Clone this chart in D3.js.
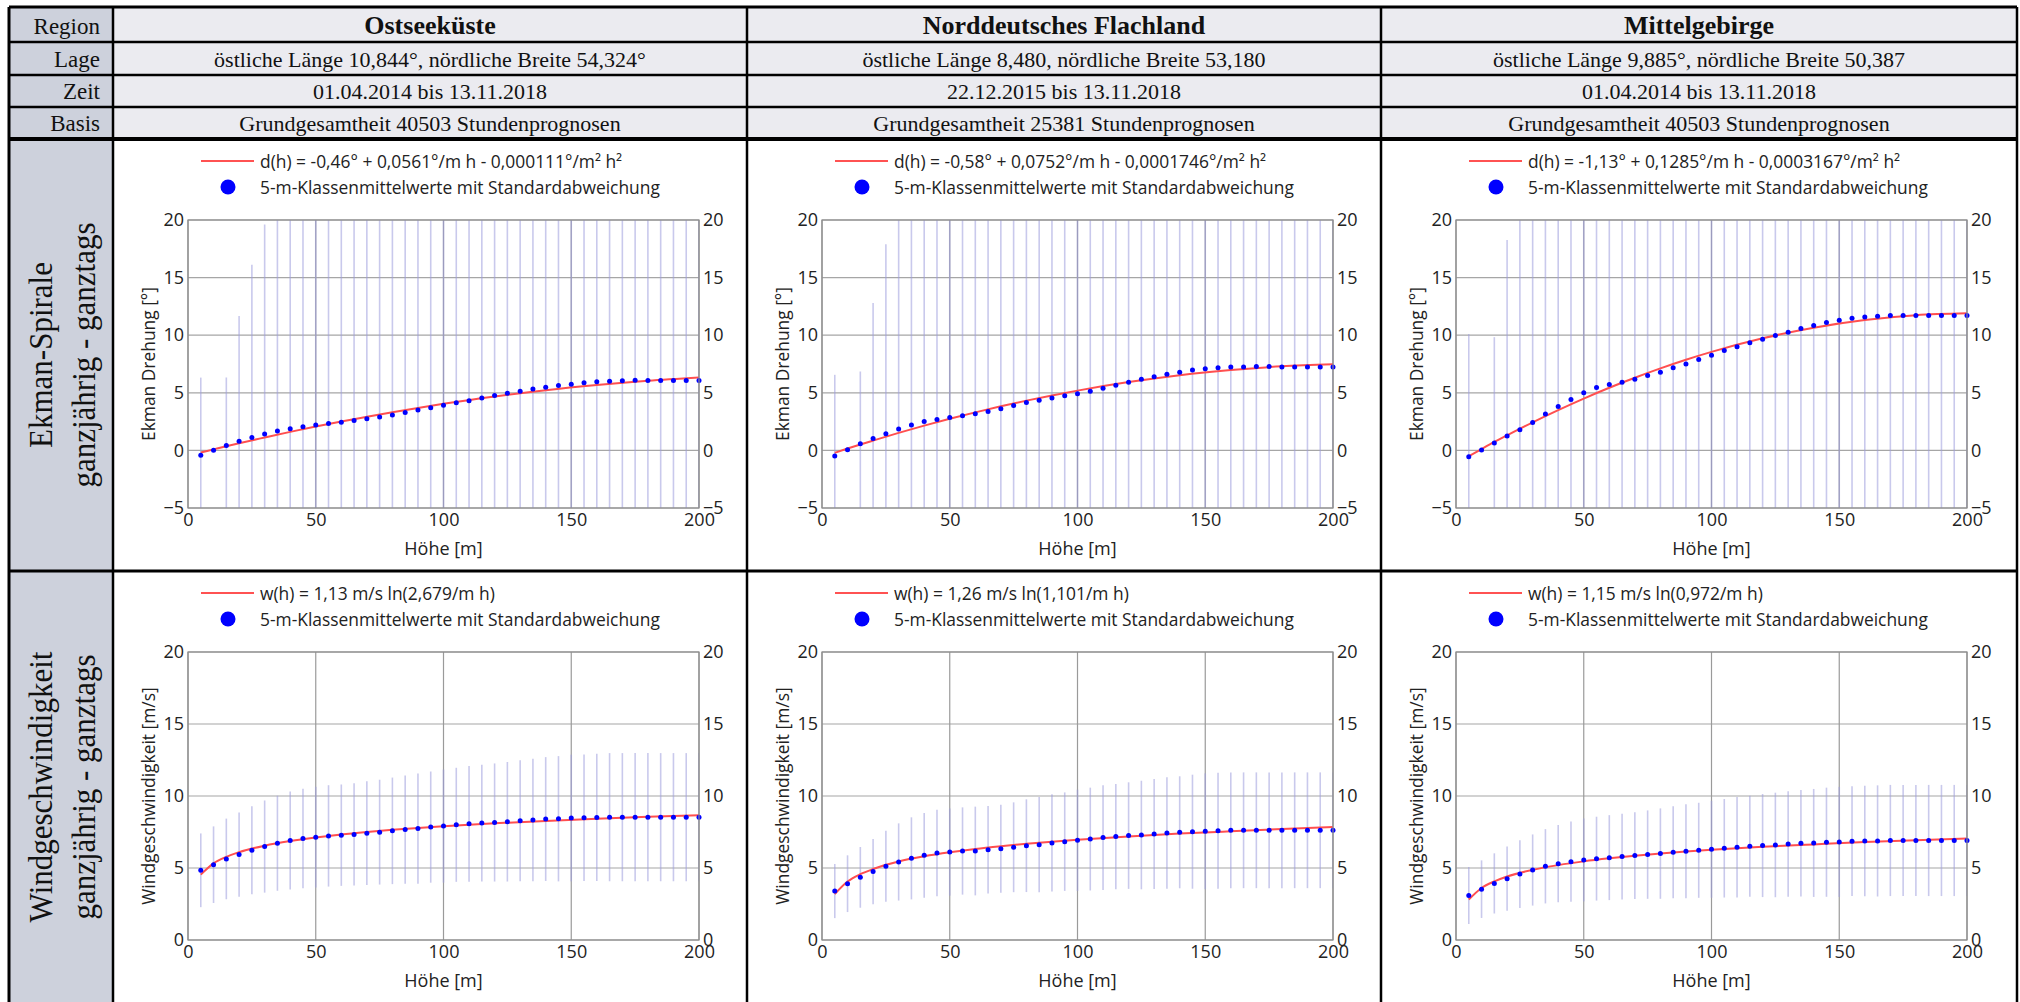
<!DOCTYPE html>
<html><head><meta charset="utf-8">
<script src="https://cdn.jsdelivr.net/npm/d3@7"></script>
<style>body{margin:0;background:#fff;overflow:hidden}</style>
</head><body>
<svg id="c" width="2020" height="1002"></svg>
<script>
// ---------------- DATA ----------------
const regions = ["Ostseeküste", "Norddeutsches Flachland", "Mittelgebirge"];
const lage = ["östliche Länge 10,844°, nördliche Breite 54,324°", "östliche Länge 8,480, nördliche Breite 53,180", "östliche Länge 9,885°, nördliche Breite 50,387"];
const zeit = ["01.04.2014 bis 13.11.2018", "22.12.2015 bis 13.11.2018", "01.04.2014 bis 13.11.2018"];
const basis = ["Grundgesamtheit 40503 Stundenprognosen", "Grundgesamtheit 25381 Stundenprognosen", "Grundgesamtheit 40503 Stundenprognosen"];
const headerLabels = ["Region", "Lage", "Zeit", "Basis"];
const rowTitles = [["Ekman-Spirale", "ganzjährig - ganztags"], ["Windgeschwindigkeit", "ganzjährig - ganztags"]];

const ekmanLegend = ["d(h) = -0,46° + 0,0561°/m h - 0,000111°/m² h²", "d(h) = -0,58° + 0,0752°/m h - 0,0001746°/m² h²", "d(h) = -1,13° + 0,1285°/m h - 0,0003167°/m² h²"];
const windLegend = ["w(h) = 1,13 m/s ln(2,679/m h)", "w(h) = 1,26 m/s ln(1,101/m h)", "w(h) = 1,15 m/s ln(0,972/m h)"];
const meanLegend = "5-m-Klassenmittelwerte mit Standardabweichung";
const ekmanTitle = "Ekman Drehung [°]";
const windTitle = "Windgeschwindigkeit [m/s]";
const xTitle = "Höhe [m]";

const xTicks = [0, 50, 100, 150, 200];
const ekmanTicks = [-5, 0, 5, 10, 15, 20];
const windTicks = [0, 5, 10, 15, 20];

const heights = [5,10,15,20,25,30,35,40,45,50,55,60,65,70,75,80,85,90,95,100,105,110,115,120,125,130,135,140,145,150,155,160,165,170,175,180,185,190,195,200];
const fitHeights = [5,10,15,20,30,40,50,60,70,80,90,100,120,140,160,180,200];

// Ekman rotation (°)
const ekmanMeanOstsee = [-0.42,0.02,0.43,0.8,1.12,1.42,1.68,1.88,2.05,2.2,2.33,2.45,2.59,2.74,2.91,3.08,3.29,3.5,3.7,3.92,4.13,4.3,4.54,4.77,4.97,5.14,5.32,5.49,5.64,5.75,5.87,5.95,6.01,6.04,6.08,6.07,6.07,6.07,6.07,6.07];
const ekmanSdOstsee = [6.74,null,5.9,10.87,15.0,18.2,24.1,24.6,25.0,25.3,25.5,25.6,25.8,25.9,26.0,26.1,26.2,26.2,26.3,26.3,26.4,26.4,26.5,26.5,26.5,26.6,26.6,26.6,26.7,26.7,26.7,26.7,26.8,26.8,26.8,26.8,26.8,26.8,26.8,26.8];
const ekmanFitOstsee = [-0.18,0.09,0.36,0.62,1.12,1.61,2.07,2.51,2.92,3.32,3.69,4.04,4.67,5.22,5.67,6.04,6.32];

const ekmanMeanNord = [-0.49,0.06,0.58,1.04,1.45,1.85,2.2,2.51,2.69,2.86,3.01,3.18,3.38,3.61,3.9,4.16,4.36,4.54,4.74,4.91,5.14,5.4,5.66,5.92,6.18,6.39,6.62,6.79,6.99,7.08,7.17,7.23,7.25,7.28,7.28,7.25,7.25,7.25,7.25,7.25];
const ekmanSdNord = [7.05,null,6.27,11.76,16.45,22.5,23.4,24.0,24.5,24.9,25.2,25.4,25.6,25.7,25.9,26.0,26.1,26.2,26.3,26.3,26.4,26.4,26.5,26.5,26.5,26.6,26.6,26.6,26.7,26.7,26.7,26.7,26.8,26.8,26.8,26.8,26.8,26.8,26.8,26.8];
const ekmanFitNord = [-0.21,0.16,0.51,0.85,1.52,2.15,2.74,3.3,3.83,4.32,4.77,5.19,5.93,6.53,6.98,7.3,7.48];

const ekmanMeanMittel = [-0.55,0.03,0.64,1.24,1.79,2.43,3.15,3.82,4.42,5.0,5.46,5.72,5.92,6.18,6.5,6.79,7.17,7.51,7.89,8.27,8.67,8.99,9.34,9.65,9.97,10.26,10.58,10.84,11.1,11.3,11.47,11.59,11.65,11.71,11.71,11.71,11.71,11.71,11.71,11.71];
const ekmanSdMittel = [10.65,null,9.19,17.03,21.8,22.6,23.3,23.9,24.4,24.8,25.1,25.4,25.6,25.8,25.9,26.0,26.1,26.2,26.3,26.3,26.4,26.4,26.5,26.5,26.5,26.6,26.6,26.6,26.7,26.7,26.7,26.7,26.8,26.8,26.8,26.8,26.8,26.8,26.8,26.8];
const ekmanFitMittel = [-0.5,0.12,0.73,1.31,2.44,3.5,4.5,5.44,6.31,7.12,7.87,8.55,9.73,10.65,11.32,11.74,11.9];

// Wind speed (m/s)
const windMeanOstsee = [4.84,5.23,5.63,5.93,6.23,6.49,6.72,6.91,7.05,7.14,7.23,7.28,7.33,7.42,7.49,7.58,7.67,7.74,7.84,7.91,8.0,8.07,8.12,8.16,8.21,8.28,8.33,8.4,8.42,8.47,8.49,8.51,8.53,8.53,8.53,8.53,8.53,8.53,8.53,8.53];
const windSdOstsee = [2.56,2.66,2.8,2.93,3.06,3.2,3.3,3.4,3.45,3.5,3.52,3.52,3.55,3.6,3.64,3.7,3.76,3.83,3.86,3.93,3.96,4.02,4.05,4.1,4.15,4.2,4.25,4.3,4.35,4.4,4.4,4.42,4.45,4.45,4.45,4.45,4.45,4.45,4.45,4.45];
const windFitOstsee = [4.54,5.32,5.77,6.1,6.55,6.87,7.12,7.33,7.5,7.65,7.78,7.9,8.1,8.27,8.42,8.56,8.67];

const windMeanNord = [3.4,3.91,4.35,4.75,5.12,5.42,5.67,5.88,6.04,6.11,6.18,6.18,6.27,6.34,6.44,6.55,6.62,6.74,6.83,6.92,7.01,7.11,7.18,7.25,7.29,7.36,7.43,7.48,7.52,7.55,7.59,7.62,7.62,7.62,7.62,7.62,7.62,7.62,7.62,7.62];
const windSdNord = [1.88,1.97,2.11,2.26,2.47,2.68,2.85,2.94,3.01,3.03,3.03,3.08,3.04,3.06,3.12,3.22,3.31,3.38,3.42,3.52,3.57,3.63,3.65,3.7,3.77,3.82,3.87,3.89,3.96,4.02,4.03,4.02,4.02,4.02,4.02,4.02,4.02,4.02,4.02,4.02];
const windFitNord = [3.19,4.06,4.57,4.93,5.45,5.81,6.09,6.32,6.51,6.68,6.83,6.96,7.19,7.39,7.55,7.7,7.84];

const windMeanMittel = [3.09,3.53,3.93,4.26,4.58,4.86,5.12,5.3,5.44,5.56,5.65,5.72,5.79,5.86,5.93,6.0,6.09,6.16,6.23,6.3,6.37,6.44,6.51,6.56,6.6,6.67,6.72,6.74,6.79,6.81,6.86,6.88,6.88,6.91,6.91,6.91,6.91,6.91,6.91,6.91];
const windSdMittel = [1.98,2.0,2.09,2.23,2.35,2.47,2.58,2.68,2.79,2.88,2.91,2.95,2.98,3.02,3.07,3.14,3.19,3.26,3.3,3.37,3.42,3.49,3.51,3.58,3.63,3.66,3.7,3.75,3.79,3.82,3.81,3.84,3.86,3.86,3.86,3.86,3.86,3.86,3.86,3.86];
const windFitMittel = [2.81,3.61,4.07,4.41,4.87,5.2,5.46,5.67,5.85,6.0,6.14,6.26,6.47,6.64,6.8,6.93,7.05];

// ---------------- LAYOUT ----------------
const svg = d3.select("#c");
const SERIF = '"Liberation Serif","Times New Roman",serif';
const SANS = '"Open Sans","Noto Sans",sans-serif';
const colX = [113, 747, 1381, 2017];
const tableL = 9, tableT = 7, tableB = 1010;
const hdrRows = [7, 42, 75, 107, 139];
const chartRows = [139, 571, tableB];

// backgrounds
svg.append("rect").attr("x", tableL).attr("y", tableT).attr("width", colX[0] - tableL).attr("height", tableB - tableT).attr("fill", "#cdd1dc");
svg.append("rect").attr("x", colX[0]).attr("y", tableT).attr("width", colX[3] - colX[0]).attr("height", hdrRows[4] - tableT).attr("fill", "#ebebf0");

// header texts
const headerData = [regions, lage, zeit, basis];
headerLabels.forEach((lab, r) => {
  svg.append("text").attr("x", 100).attr("y", hdrRows[r + 1] - 8)
    .attr("text-anchor", "end").attr("font-family", SERIF).attr("font-size", 23).attr("fill", "#111").text(lab);
  headerData[r].forEach((t, c) => {
    svg.append("text").attr("x", (colX[c] + colX[c + 1]) / 2).attr("y", hdrRows[r + 1] - 8)
      .attr("text-anchor", "middle").attr("font-family", SERIF)
      .attr("font-size", r === 0 ? 26 : 22).attr("font-weight", r === 0 ? "bold" : "normal")
      .attr("fill", "#111").text(t);
  });
});

// row titles (rotated, slightly stretched glyph height as in the reference)
rowTitles.forEach((lines, r) => {
  const cy = chartRows[r] + 216;
  lines.forEach((t, i) => {
    svg.append("text").attr("transform", `translate(${i === 0 ? 52 : 95},${cy}) rotate(-90) scale(1,1.12)`)
      .attr("text-anchor", "middle").attr("font-family", SERIF).attr("font-size", 31)
      .attr("fill", "#111").text(t);
  });
});

// ---------------- PANELS ----------------
const panels = [
  [
    {mean: ekmanMeanOstsee, sd: ekmanSdOstsee, fit: ekmanFitOstsee, legend: ekmanLegend[0]},
    {mean: ekmanMeanNord, sd: ekmanSdNord, fit: ekmanFitNord, legend: ekmanLegend[1]},
    {mean: ekmanMeanMittel, sd: ekmanSdMittel, fit: ekmanFitMittel, legend: ekmanLegend[2]}
  ],
  [
    {mean: windMeanOstsee, sd: windSdOstsee, fit: windFitOstsee, legend: windLegend[0]},
    {mean: windMeanNord, sd: windSdNord, fit: windFitNord, legend: windLegend[1]},
    {mean: windMeanMittel, sd: windSdMittel, fit: windFitMittel, legend: windLegend[2]}
  ]
];

let clipId = 0;
panels.forEach((row, r) => {
  const yTicks = r === 0 ? ekmanTicks : windTicks;
  const yTitle = r === 0 ? ekmanTitle : windTitle;
  row.forEach((p, c) => {
    const cellL = colX[c], rowT = chartRows[r];
    const pl = cellL + 75, pr = pl + 511, pt = rowT + 81, pb = rowT + 369;
    const x = d3.scaleLinear().domain([0, 200]).range([pl, pr]);
    const y = d3.scaleLinear().domain([yTicks[0], yTicks[yTicks.length - 1]]).range([pb, pt]);
    const g = svg.append("g");

    // legend
    g.append("line").attr("x1", cellL + 88).attr("x2", cellL + 141).attr("y1", rowT + 22).attr("y2", rowT + 22)
      .attr("stroke", "#ff5252").attr("stroke-width", 2);
    g.append("text").attr("x", cellL + 147).attr("y", rowT + 22).attr("dominant-baseline", "central")
      .attr("font-family", SANS).attr("font-size", 17.4).attr("fill", "#222").text(p.legend);
    g.append("circle").attr("cx", cellL + 115).attr("cy", rowT + 48).attr("r", 7.5).attr("fill", "#0000ff");
    g.append("text").attr("x", cellL + 147).attr("y", rowT + 48).attr("dominant-baseline", "central")
      .attr("font-family", SANS).attr("font-size", 17.4).attr("fill", "#222").text(meanLegend);

    // grid
    g.append("g").selectAll("line").data(yTicks).join("line")
      .attr("x1", pl).attr("x2", pr).attr("y1", d => y(d)).attr("y2", d => y(d))
      .attr("stroke", "#a6a6a6").attr("stroke-width", 1.2);
    g.append("g").selectAll("line").data(xTicks).join("line")
      .attr("x1", d => x(d)).attr("x2", d => x(d)).attr("y1", pt).attr("y2", pb)
      .attr("stroke", "#9a9a9a").attr("stroke-width", 1.2);

    // clip
    const cid = "clip" + (clipId++);
    svg.append("clipPath").attr("id", cid).append("rect").attr("x", pl).attr("y", pt).attr("width", pr - pl).attr("height", pb - pt);
    const inner = g.append("g").attr("clip-path", `url(#${cid})`);

    // error bars
    const bars = heights.map((h, i) => ({h, m: p.mean[i], s: p.sd[i]})).filter(d => d.s != null);
    inner.append("g").selectAll("line").data(bars).join("line")
      .attr("x1", d => x(d.h)).attr("x2", d => x(d.h))
      .attr("y1", d => y(d.m - d.s)).attr("y2", d => y(d.m + d.s))
      .attr("stroke", "#9c9cdc").attr("stroke-opacity", 0.55).attr("stroke-width", 1.6);

    // fit curve
    const line = d3.line().x((d, i) => x(fitHeights[i])).y(d => y(d)).curve(d3.curveMonotoneX);
    inner.append("path").attr("d", line(p.fit)).attr("fill", "none").attr("stroke", "#ff4f4f").attr("stroke-width", 2);

    // points
    g.append("g").selectAll("circle").data(heights).join("circle")
      .attr("cx", d => x(d)).attr("cy", (d, i) => y(p.mean[i])).attr("r", 2.5).attr("fill", "#0000ff");

    // axes (labels only)
    const ax = (sel, axis) => { sel.call(axis); sel.select(".domain").remove(); sel.selectAll("text").attr("font-family", SANS).attr("font-size", 18).attr("fill", "#222"); };
    g.append("g").attr("transform", `translate(${pl},0)`).call(s => ax(s, d3.axisLeft(y).tickValues(yTicks).tickSize(0).tickPadding(4)));
    g.append("g").attr("transform", `translate(${pr},0)`).call(s => ax(s, d3.axisRight(y).tickValues(yTicks).tickSize(0).tickPadding(4)));
    g.append("g").attr("transform", `translate(0,${pb})`).call(s => ax(s, d3.axisBottom(x).tickValues(xTicks).tickSize(0).tickPadding(5)));

    // frame
    g.append("rect").attr("x", pl).attr("y", pt).attr("width", pr - pl).attr("height", pb - pt)
      .attr("fill", "none").attr("stroke", "#8c8c8c").attr("stroke-width", 1.2);

    // titles
    g.append("text").attr("x", (pl + pr) / 2).attr("y", pb + 40).attr("text-anchor", "middle").attr("dominant-baseline", "central")
      .attr("font-family", SANS).attr("font-size", 18).attr("fill", "#222").text(xTitle);
    g.append("text").attr("transform", `translate(${cellL + 35},${(pt + pb) / 2}) rotate(-90)`)
      .attr("text-anchor", "middle").attr("dominant-baseline", "central")
      .attr("font-family", SANS).attr("font-size", 17.4).attr("fill", "#222").text(yTitle);
  });
});

// ---------------- TABLE LINES ----------------
const lines = svg.append("g").attr("stroke", "#000");
[hdrRows[1], hdrRows[2], hdrRows[3]].forEach(yv => lines.append("line").attr("x1", tableL).attr("x2", colX[3]).attr("y1", yv).attr("y2", yv).attr("stroke-width", 2.5));
lines.append("line").attr("x1", tableL).attr("x2", colX[3]).attr("y1", hdrRows[4]).attr("y2", hdrRows[4]).attr("stroke-width", 4);
lines.append("line").attr("x1", tableL).attr("x2", colX[3]).attr("y1", chartRows[1]).attr("y2", chartRows[1]).attr("stroke-width", 3);
colX.forEach(xv => lines.append("line").attr("x1", xv).attr("x2", xv).attr("y1", tableT).attr("y2", tableB).attr("stroke-width", 2.5));
lines.append("line").attr("x1", tableL).attr("x2", tableL).attr("y1", tableT).attr("y2", tableB).attr("stroke-width", 3);
lines.append("line").attr("x1", tableL).attr("x2", colX[3]).attr("y1", tableT).attr("y2", tableT).attr("stroke-width", 3);
</script>
</body></html>
